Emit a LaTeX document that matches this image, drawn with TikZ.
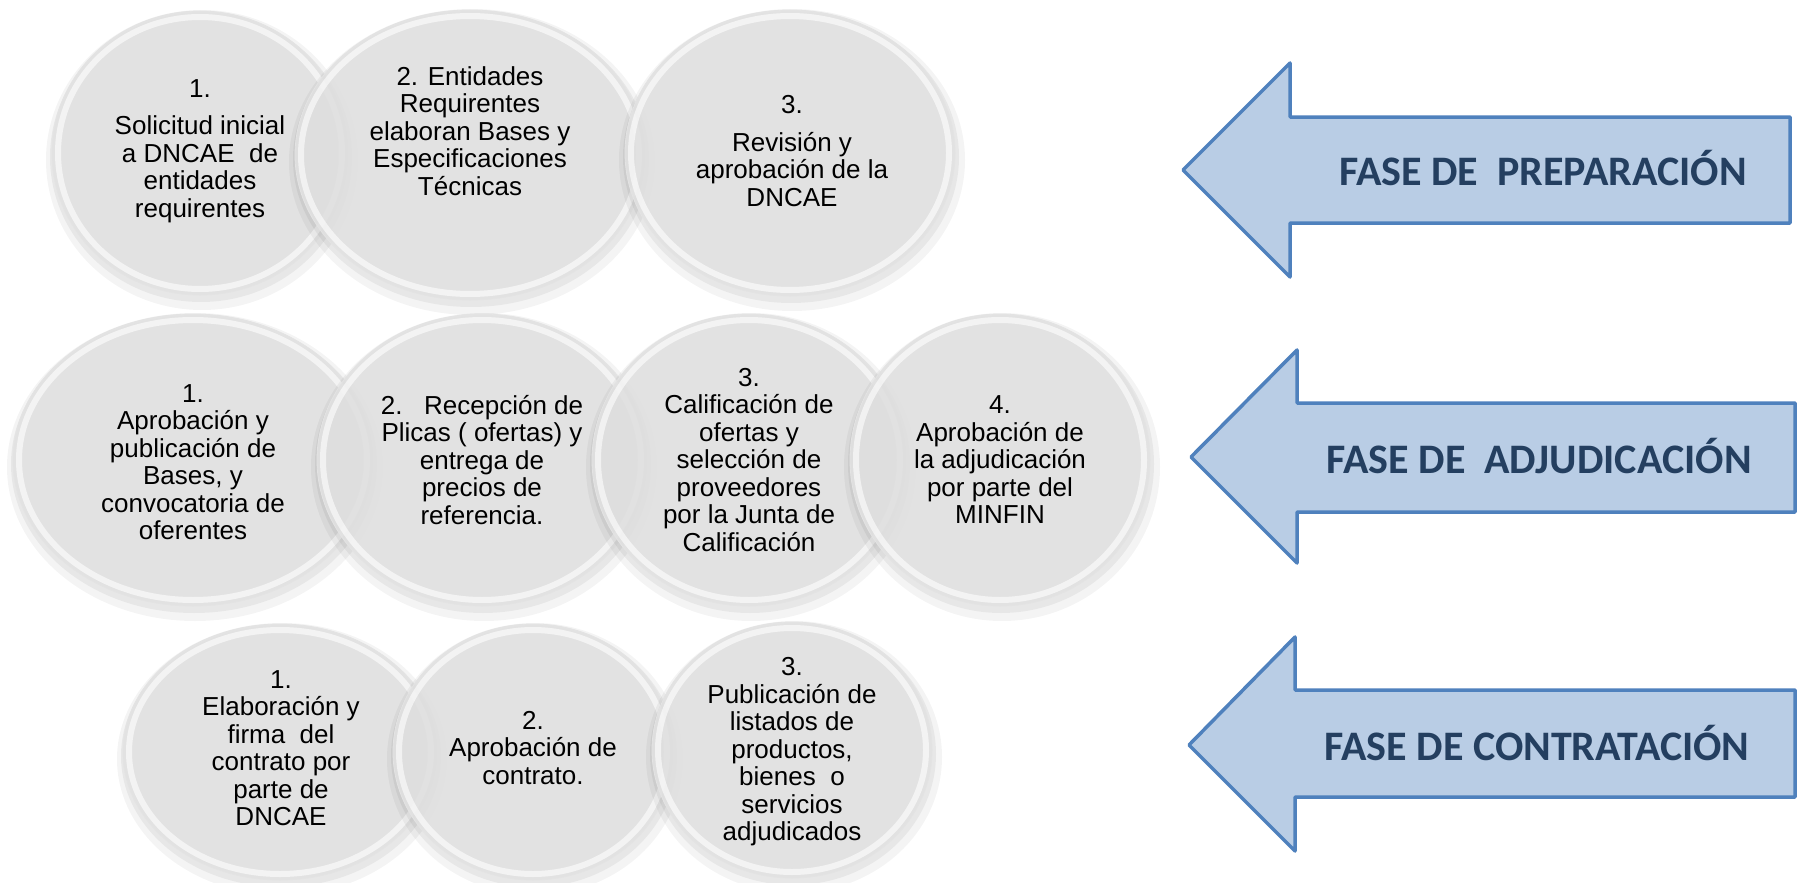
\documentclass[tikz,border=0pt]{standalone}
\usepackage{fontspec}
\setmainfont{Liberation Sans}
\newfontfamily\phasefont{Carlito}
\usetikzlibrary{shapes.geometric}
\definecolor{bubblefill}{RGB}{226,226,226}
\definecolor{arrowfill}{RGB}{185,205,229}
\definecolor{arrowline}{RGB}{79,129,189}
\definecolor{phasetext}{RGB}{36,63,96}
\tikzset{
  bubble/.style={ellipse, inner sep=0pt, outer sep=0pt, fill=bubblefill, fill opacity=0.85, draw=black!11, line width=0.8pt},
  bubbletext/.style={align=center, font=\fontsize{26}{27.5}\selectfont, text=black, inner sep=0pt},
  phasearrow/.style={fill=arrowfill, draw=arrowline, line width=3.5pt, line join=round},
  phaselabel/.style={anchor=base, font=\phasefont\bfseries\fontsize{42}{46}\selectfont, text=phasetext, inner sep=0pt},
}
\newcommand\bub[5]{%
  \fill[black,opacity=0.045] ({#2+2},{#3+7}) ellipse [x radius={#4pt+8pt}, y radius={#5pt+8pt}];
  \fill[black,opacity=0.05] ({#2+1},{#3+4}) ellipse [x radius={#4pt+3pt}, y radius={#5pt+3pt}];
  \node[bubble, minimum width={2*#4pt}, minimum height={2*#5pt}] (#1) at (#2,#3) {};
  \draw[white, opacity=0.6, line width=6pt] (#1.center) ellipse [x radius={#4pt-6pt}, y radius={#5pt-6pt}];
}
\begin{document}
\begin{tikzpicture}[x=1pt,y=-1pt]
\fill[white] (0,0) rectangle (1800,883);
\useasboundingbox (0,0) rectangle (1800,883);

% ---- row 1: preparation
\bub{c11}{200}{153}{148}{142}
\bub{c12}{470}{155}{175}{145}
\bub{c13}{790}{153}{165}{143}
\node[bubbletext] (t11) at (200,151) {1.\\[10pt]Solicitud inicial\\a DNCAE\ \ de\\entidades\\requirentes};
\node[bubbletext] (t12) at (470,131) {2. Entidades\\Requirentes\\elaboran Bases y\\Especificaciones\\Técnicas};
\node[bubbletext] (t13) at (792,151) {3.\\[10pt]Revisión y\\aprobación de la\\DNCAE};

% ---- row 2: adjudication
\bub{c21}{193}{460}{180}{146}
\bub{c22}{482}{460}{165}{146}
\bub{c23}{749}{460}{157}{146}
\bub{c24}{1000}{460}{150}{146}
\node[bubbletext] (t21) at (193,462) {1.\\Aprobación y\\publicación de\\Bases, y\\convocatoria de\\oferentes};
\node[bubbletext] (t22) at (482,460) {2.\ \ \ Recepción de\\Plicas ( ofertas) y\\entrega de\\precios de\\referencia.};
\node[bubbletext] (t23) at (749,460) {3.\\Calificación de\\ofertas y\\selección de\\proveedores\\por la Junta de\\Calificación};
\node[bubbletext] (t24) at (1000,460) {4.\\Aprobación de\\la adjudicación\\por parte del\\MINFIN};

% ---- row 3: contracting
\bub{c31}{280}{752}{157}{128}
\bub{c32}{533}{752}{140}{128}
\bub{c33}{792}{750}{140}{128}
\node[bubbletext] (t31) at (281,748) {1.\\Elaboración y\\firma\ \ del\\contrato por\\parte de\\DNCAE};
\node[bubbletext] (t32) at (533,748) {2.\\Aprobación de\\contrato.};
\node[bubbletext] (t33) at (792,752) {3.\\Publicación de\\listados de\\productos,\\bienes\ \ o\\servicios\\adjudicados};

% ---- phase arrows
\draw[phasearrow] (1183,170) -- (1290,63) -- (1290,117) -- (1790,117) -- (1790,223) -- (1290,223) -- (1290,277) -- cycle;
\node[phaselabel] (p1) at (1543,185) {FASE DE\ \ PREPARACIÓN};

\draw[phasearrow] (1191,457) -- (1297,350) -- (1297,403) -- (1795,403) -- (1795,512) -- (1297,512) -- (1297,563) -- cycle;
\node[phaselabel] (p2) at (1539,473) {FASE DE\ \ ADJUDICACIÓN};

\draw[phasearrow] (1189,745) -- (1295,637) -- (1295,690) -- (1795,690) -- (1795,797) -- (1295,797) -- (1295,851) -- cycle;
\node[phaselabel] (p3) at (1537,760) {FASE DE CONTRATACIÓN};
\end{tikzpicture}
\end{document}
